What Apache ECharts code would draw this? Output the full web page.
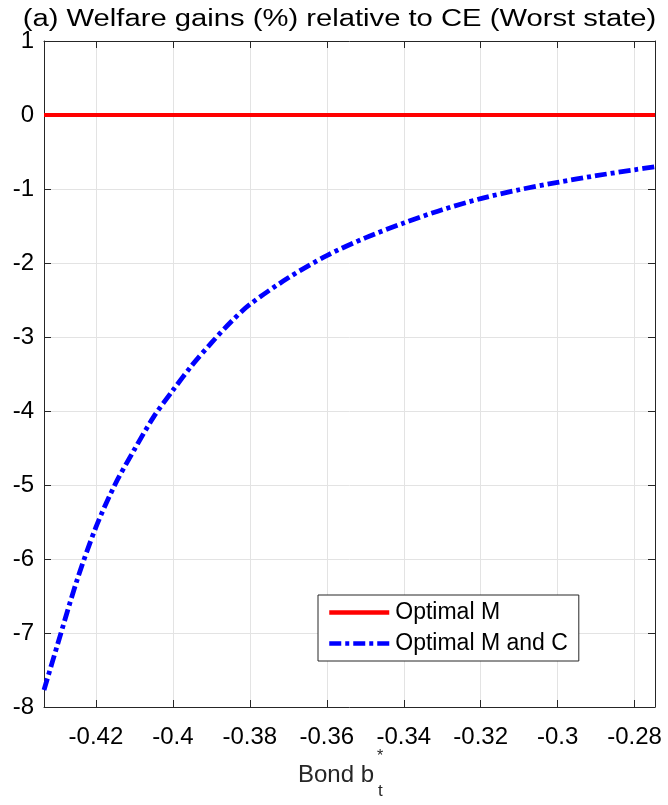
<!DOCTYPE html>
<html>
<head>
<meta charset="utf-8">
<script src="https://cdn.jsdelivr.net/npm/echarts@6/dist/echarts.min.js"></script>
<style>html,body{margin:0;padding:0;background:#fff}#c{width:668px;height:805px}</style>
</head>
<body>
<div id="c"></div>
<script>
var bondX = [-0.4335, -0.43, -0.425, -0.42, -0.415, -0.41, -0.405, -0.40, -0.395, -0.39, -0.385, -0.38, -0.37, -0.36, -0.35, -0.34, -0.33, -0.32, -0.31, -0.30, -0.29, -0.28, -0.2747];
var gainsMC = [-7.77, -7.16, -6.3, -5.57, -4.99, -4.52, -4.08, -3.72, -3.38, -3.08, -2.80, -2.56, -2.20, -1.90, -1.66, -1.46, -1.28, -1.13, -1.01, -0.91, -0.82, -0.74, -0.70];
var gainsM = [0, 0, 0, 0, 0, 0, 0, 0, 0, 0, 0, 0, 0, 0, 0, 0, 0, 0, 0, 0, 0, 0, 0];
var xTicks = [-0.42, -0.40, -0.38, -0.36, -0.34, -0.32, -0.30, -0.28];
var yTicks = [-8, -7, -6, -5, -4, -3, -2, -1, 0, 1];
var seriesNames = ['Optimal M', 'Optimal M and C'];
var titleText = '(a) Welfare gains (%) relative to CE (Worst state)';
var xAxisName = 'Bond b';

var FONT = '"Liberation Sans", Arial, Helvetica, sans-serif';
var AX = '#262626';
function pairs(xs, ys){ return xs.map(function(x,i){ return [x, ys[i]]; }); }
function fmtX(v){ return String(Math.round(v*100)/100); }

var xMin = -0.4335, xMax = -0.2747, yMin = -8, yMax = 1;
var chart = echarts.init(document.getElementById('c'), null, {renderer:'canvas'});
var baseX = {
  type:'value', min:xMin, max:xMax,
  axisLine:{show:true, onZero:false, lineStyle:{color:AX, width:1}},
  axisTick:{show:true, inside:true, length:7, customValues:xTicks, lineStyle:{color:AX}},
  splitLine:{show:false}
};
var baseY = {
  type:'value', min:yMin, max:yMax, interval:1,
  axisLine:{show:true, onZero:false, lineStyle:{color:AX, width:1}},
  axisTick:{show:true, inside:true, length:7, customValues:yTicks, lineStyle:{color:AX}},
  splitLine:{show:false}
};
chart.setOption({
  animation:false,
  backgroundColor:'#fff',
  grid:{left:44, right:13, top:41, bottom:98, containLabel:false},
  legend:{
    data:seriesNames, orient:'vertical', left:318, top:595,
    itemWidth:60, itemHeight:14, itemGap:8,
    padding:[6,11,6,9],
    borderColor:AX, borderWidth:1, backgroundColor:'#fff',
    itemStyle:{opacity:0},
    lineStyle:{width:4.5},
    textStyle:{fontFamily:FONT, fontSize:23, color:'#000', padding:[0,0,0,1]}
  },
  xAxis:[
    Object.assign({}, baseX, {position:'bottom',
      axisLabel:{show:true, customValues:xTicks, formatter:fmtX, margin:18, fontFamily:FONT, fontSize:24, color:'#000'},
      splitLine:{show:true, lineStyle:{color:'#e3e3e3', width:1}}}),
    Object.assign({}, baseX, {position:'top', axisLabel:{show:false}})
  ],
  yAxis:[
    Object.assign({}, baseY, {position:'left',
      axisLabel:{show:true, margin:10, fontFamily:FONT, fontSize:24, color:'#000'},
      splitLine:{show:true, lineStyle:{color:'#e3e3e3', width:1}}}),
    Object.assign({}, baseY, {position:'right', axisLabel:{show:false}})
  ],
  graphic:[
    {type:'text', x:339.5, y:20, scaleX:1.27, z:10,
     style:{text:titleText, font:'23px '+FONT, fill:'#000', align:'center', verticalAlign:'middle'}},
    {type:'text', x:298, y:775, z:10, style:{text:xAxisName, font:'24px '+FONT, fill:'#262626', align:'left', verticalAlign:'middle'}},
    {type:'text', x:377, y:757, z:10, style:{text:'*', font:'16px '+FONT, fill:'#262626', align:'left', verticalAlign:'middle'}},
    {type:'text', x:378, y:791, z:10, style:{text:'t', font:'17px '+FONT, fill:'#262626', align:'left', verticalAlign:'middle'}}
  ],
  series:[
    {name:seriesNames[0], type:'line', data:pairs(bondX, gainsM), showSymbol:false, symbol:'none',
     lineStyle:{color:'#ff0000', width:4.2}, itemStyle:{color:'#ff0000'}, z:3},
    {name:seriesNames[1], type:'line', data:pairs(bondX, gainsMC), showSymbol:false, symbol:'none', smooth:0.3,
     lineStyle:{color:'#0000ff', width:4.8, type:[12,4,4,4]}, itemStyle:{color:'#0000ff'}, z:4}
  ]
});
</script>
</body>
</html>
